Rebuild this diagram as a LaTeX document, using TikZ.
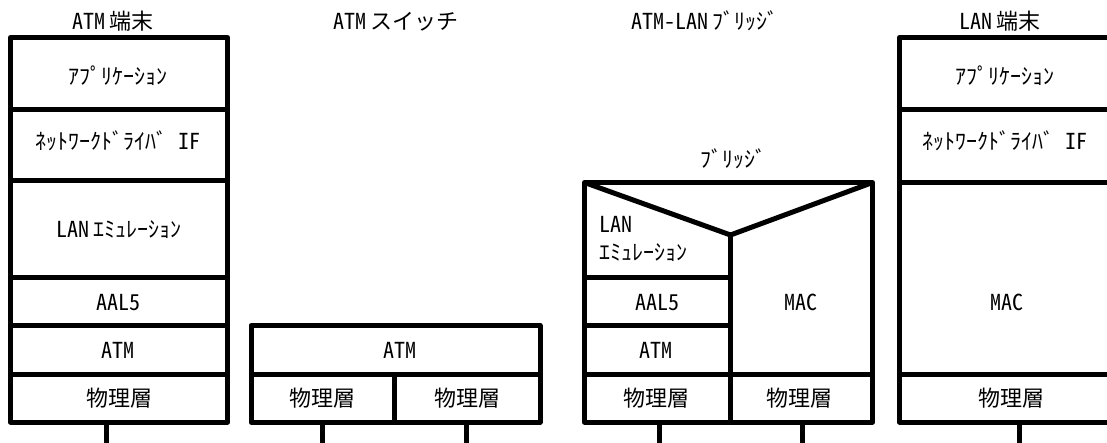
\documentclass[tikz,border=0pt]{standalone}
\usepackage{fontspec}
\setmainfont{Noto Sans CJK JP}[RawFeature=+hwid]
\newfontfamily\zenkaku{Noto Sans CJK JP}
\newcommand\nsp{\hspace{0.18em}}

\begin{document}
\begin{tikzpicture}[x=1pt,y=-1pt,line width=5pt,line join=round,
        every node/.style={font=\fontsize{22}{26}\selectfont,inner sep=0pt,anchor=base}]
        \useasboundingbox (0,0) rectangle (1107,443);
        % ATM terminal
        \draw (10.5,37.5) rectangle (227.5,422);
        \foreach \y in {109.5,180.5,277.5,325.5,374.5}
            \draw (10.5,\y) -- (227.5,\y);
        \coordinate (atmtA) at (106.5,422);
        \coordinate (atmtB) at (106.5,443);
        \draw (atmtA) -- (atmtB);
        \node (atmtitle) at (113,30) {ATM\nsp 端末};
        \node (atmapp) at (118,85) {ｱﾌﾟﾘｹｰｼｮﾝ};
        \node (atmnw) at (118,150) {ﾈｯﾄﾜｰｸﾄﾞﾗｲﾊﾞ IF};
        \node (atmemu) at (119,238) {LAN\nsp ｴﾐｭﾚｰｼｮﾝ};
        \node (atmaal) at (118,310) {AAL5};
        \node (atmatm) at (118,358) {ATM};
        \node (atmphy) at (119,406) {物理層};
        % ATM switch
        \draw (251,325.5) rectangle (540,422);
        \draw (251,374.5) -- (540,374.5);
        \draw (394.5,374.5) -- (394.5,422);
        \foreach \x [count=\i] in {322.5,466}{
            \coordinate (swA\i) at (\x,422);
            \coordinate (swB\i) at (\x,443);
            \draw (swA\i) -- (swB\i);
        }
        \node (swtitle) at (396,30) {ATM\nsp{\zenkaku スイッチ}};
        \node (swatm) at (400,358) {ATM};
        \node (swphyA) at (322,406) {物理層};
        \node (swphyB) at (467,406) {物理層};
        % ATM-LAN bridge
        \draw (584.5,182.5) rectangle (872.5,422);
        \coordinate (vtip) at (730.5,235);
        \draw (584.5,182.5) -- (vtip) -- (872.5,182.5);
        \draw (vtip) -- (730.5,422);
        \draw (584.5,277.5) -- (730.5,277.5);
        \draw (584.5,325.5) -- (730.5,325.5);
        \draw (584.5,374.5) -- (875,374.5);
        \foreach \x [count=\i] in {659.5,802.5}{
            \coordinate (brA\i) at (\x,422);
            \coordinate (brB\i) at (\x,443);
            \draw (brA\i) -- (brB\i);
        }
        \node (brtitle) at (705,30) {ATM-LAN\nsp ﾌﾞﾘｯｼﾞ};
        \node (brlabel) at (733,168) {ﾌﾞﾘｯｼﾞ};
        \node[anchor=base west] (bremuA) at (597,233) {LAN};
        \node[anchor=base west] (bremuB) at (597,261) {ｴﾐｭﾚｰｼｮﾝ};
        \node (braal) at (657,310) {AAL5};
        \node (bratm) at (656,358) {ATM};
        \node (brmac) at (801,310) {MAC};
        \node (brphyA) at (656,406) {物理層};
        \node (brphyB) at (799,406) {物理層};
        % LAN terminal
        \draw (899.5,37.5) rectangle (1116.5,422);
        \foreach \y in {109.5,182.5,374.5}
            \draw (899.5,\y) -- (1116.5,\y);
        \coordinate (lantA) at (1019,422);
        \coordinate (lantB) at (1019,443);
        \draw (lantA) -- (lantB);
        \node (lantitle) at (1000,30) {LAN\nsp 端末};
        \node (lanapp) at (1005,85) {ｱﾌﾟﾘｹｰｼｮﾝ};
        \node (lannw) at (1005,150) {ﾈｯﾄﾜｰｸﾄﾞﾗｲﾊﾞ IF};
        \node (lanmac) at (1007,310) {MAC};
        \node (lanphy) at (1011,406) {物理層};
    \end{tikzpicture}
\end{document}
